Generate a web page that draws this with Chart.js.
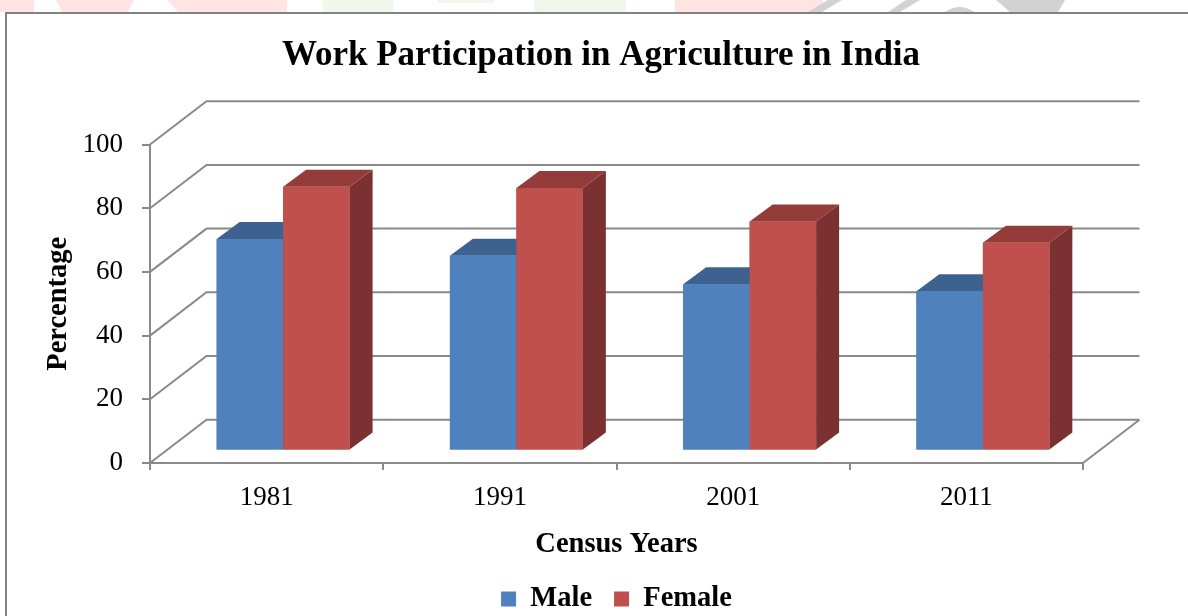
<!DOCTYPE html>
<html><head><meta charset="utf-8">
<script src="https://cdn.jsdelivr.net/npm/chart.js@4/dist/chart.umd.min.js"></script>
<style>
html,body{margin:0;padding:0;background:#fff;overflow:hidden;}
#wrap{position:relative;width:1188px;height:616px;overflow:hidden;background:#fff;}
canvas{display:block;}
</style></head><body>
<div id="wrap"><canvas id="c" width="1188" height="650"></canvas></div>
<script>
// ---- data ----
const categories = ['1981', '1991', '2001', '2011'];
const maleValues = [66.4, 61.1, 52.2, 50.0];
const femaleValues = [82.8, 82.4, 71.9, 65.2];
const yTicks = [0, 20, 40, 60, 80, 100];
const seriesNames = ['Male', 'Female'];

// ---- styling ----
const FONT = "'Liberation Serif', 'Times New Roman', serif";
const GRID_COLOR = '#8a8a8a';
const WALL = {dx: 56.5, dy: -43.3};       // depth of the 3D box
const BAR_SHIFT = {dx: 16.5, dy: -12.6};  // bars sit a little behind the front plane
const BAR_DEPTH = {dx: 23, dy: -17};
const FRONT = ['#4F81BD', '#C0504D'];
const FACES = [{top: '#3D628F', side: '#2F4C70'}, {top: '#943C3A', side: '#7B3131'}];

Chart.defaults.font.family = FONT;
Chart.defaults.color = '#000';

const threeD = {
  id: 'threeD',
  beforeDraw(chart) {
    const ctx = chart.ctx;
    ctx.save();
    // faint watermark strip above the frame
    ctx.fillStyle = '#FFE4E4';
    ctx.fillRect(0, 0, 34, 12);
    ctx.beginPath(); ctx.moveTo(56,0); ctx.lineTo(134,0); ctx.lineTo(128,12); ctx.lineTo(62,12); ctx.fill();
    ctx.beginPath(); ctx.moveTo(167,0); ctx.lineTo(287,0); ctx.lineTo(287,12); ctx.lineTo(178,12); ctx.fill();
    ctx.fillRect(675, 0, 148, 12);
    ctx.fillStyle = '#EFF8EA';
    ctx.fillRect(323, 0, 70, 12);
    ctx.fillRect(437, 0, 57, 3);
    ctx.fillRect(534, 0, 92, 12);
    ctx.fillStyle = '#D2D2D2';
    [[808,822,842,828],[888,900,920,906]].forEach(p => {
      ctx.beginPath(); ctx.moveTo(p[0],12); ctx.lineTo(p[1],12); ctx.lineTo(p[2],0); ctx.lineTo(p[3],0); ctx.fill();
    });
    ctx.beginPath(); ctx.moveTo(945,12); ctx.quadraticCurveTo(960,2,974,12); ctx.fill();
    ctx.beginPath(); ctx.moveTo(996,0); ctx.lineTo(1065,0); ctx.lineTo(1058,12); ctx.lineTo(1010,12); ctx.fill();
    // chart frame
    ctx.fillStyle = '#fff';
    ctx.fillRect(6, 13, 1300, 700);
    ctx.strokeStyle = '#828282';
    ctx.lineWidth = 2;
    ctx.beginPath(); ctx.moveTo(6, 700); ctx.lineTo(6, 13); ctx.lineTo(1300, 13); ctx.stroke();
    ctx.restore();
  },
  beforeDatasetsDraw(chart) {
    const {ctx, scales: {y}, chartArea: a} = chart;
    ctx.save();
    ctx.strokeStyle = GRID_COLOR;
    ctx.lineWidth = 2;
    ctx.lineJoin = 'miter';
    ctx.beginPath();
    yTicks.forEach(v => {
      const py = y.getPixelForValue(v);
      ctx.moveTo(a.left, py);
      ctx.lineTo(a.left + WALL.dx, py + WALL.dy);
      ctx.lineTo(a.right + WALL.dx, py + WALL.dy);
    });
    const p0 = y.getPixelForValue(0);
    ctx.moveTo(a.right, p0);
    ctx.lineTo(a.right + WALL.dx, p0 + WALL.dy);
    ctx.stroke();
    ctx.restore();
    ctx.save();
    ctx.translate(BAR_SHIFT.dx, BAR_SHIFT.dy);
  },
  afterDatasetsDraw(chart) {
    const ctx = chart.ctx;
    // repaint in series order so the right-hand bar of each pair hides the left one's sides
    chart.data.datasets.forEach((ds, i) => {
      const meta = chart.getDatasetMeta(i);
      const f = FACES[i];
      meta.data.forEach(bar => {
        const {x, y, base, width} = bar.getProps(['x', 'y', 'base', 'width'], true);
        const L = x - width / 2, R = x + width / 2;
        ctx.fillStyle = f.side;
        ctx.beginPath();
        ctx.moveTo(R, y); ctx.lineTo(R + BAR_DEPTH.dx, y + BAR_DEPTH.dy);
        ctx.lineTo(R + BAR_DEPTH.dx, base + BAR_DEPTH.dy); ctx.lineTo(R, base);
        ctx.closePath(); ctx.fill();
        ctx.fillStyle = f.top;
        ctx.beginPath();
        ctx.moveTo(L, y); ctx.lineTo(R, y);
        ctx.lineTo(R + BAR_DEPTH.dx, y + BAR_DEPTH.dy); ctx.lineTo(L + BAR_DEPTH.dx, y + BAR_DEPTH.dy);
        ctx.closePath(); ctx.fill();
        bar.draw(ctx);
      });
    });
    ctx.restore();
  }
};

new Chart(document.getElementById('c'), {
  type: 'bar',
  data: {
    labels: categories,
    datasets: [
      {label: seriesNames[0], data: maleValues, backgroundColor: FRONT[0], borderColor: FRONT[0], borderWidth: 0, clip: false},
      {label: seriesNames[1], data: femaleValues, backgroundColor: FRONT[1], borderColor: FRONT[1], borderWidth: 0, clip: false}
    ]
  },
  options: {
    responsive: false,
    animation: false,
    devicePixelRatio: 1,
    layout: {padding: {left: 14, right: 0, top: 0, bottom: 26.75}},
    datasets: {bar: {categoryPercentage: 0.57, barPercentage: 1.0}},
    plugins: {
      tooltip: {enabled: false},
      title: {
        display: true,
        text: 'Work Participation in Agriculture in India',
        color: '#000',
        font: {size: 35, weight: 'bold'},
        padding: {top: 35, bottom: 67.5}
      },
      legend: {
        position: 'bottom',
        fullSize: false,
        labels: {boxWidth: 15, boxHeight: 15, padding: 22, color: '#000', font: {size: 28.5, weight: 'bold'}}
      }
    },
    scales: {
      x: {
        grid: {offset: true, drawOnChartArea: false, drawTicks: true, tickLength: 7, color: GRID_COLOR, lineWidth: 2},
        border: {display: true, color: GRID_COLOR, width: 2},
        ticks: {font: {size: 27}, color: '#000', padding: 12, maxRotation: 0},
        title: {display: true, text: 'Census Years', color: '#000', font: {size: 28.5, weight: 'bold'}, padding: {top: 0, bottom: 0.65}},
        afterFit(s) { s.height = 99.75; }
      },
      y: {
        min: 0, max: 100,
        afterBuildTicks(s) { s.ticks = yTicks.map(v => ({value: v})); },
        grid: {drawOnChartArea: false, drawTicks: true, tickLength: 8, color: GRID_COLOR, lineWidth: 2},
        border: {display: true, color: GRID_COLOR, width: 2},
        ticks: {font: {size: 27}, color: '#000', padding: 19},
        title: {display: true, text: 'Percentage', color: '#000', font: {size: 28.5, weight: 'bold'}, padding: {top: 28, bottom: 0}},
        afterFit(s) { s.width = 136; }
      },
      y2: {
        position: 'right',
        display: true,
        grid: {display: false},
        border: {display: false},
        ticks: {display: false},
        afterFit(s) { s.width = 105; }
      }
    }
  },
  plugins: [threeD]
});
</script>
</body></html>
